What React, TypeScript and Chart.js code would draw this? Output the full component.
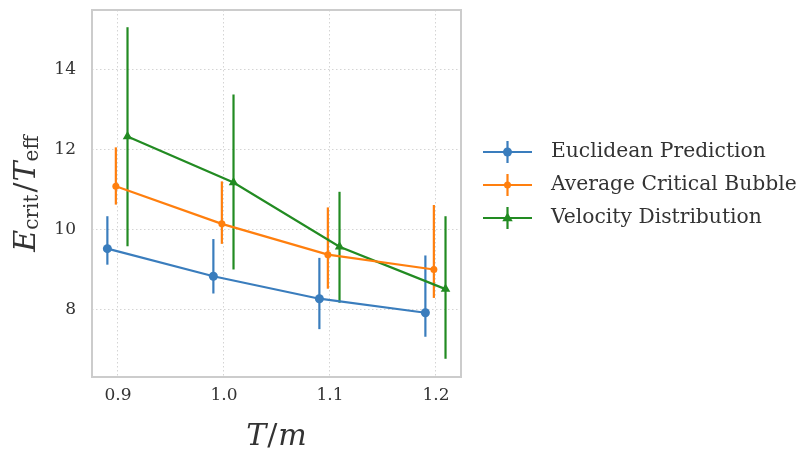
import React, { useEffect, useRef } from "react";
import { Chart, registerables } from "chart.js";

Chart.register(...registerables);

const xTicks = [0.9, 1.0, 1.1, 1.2];
const yTicks = [8, 10, 12, 14];

const seriesNames = ["Euclidean Prediction", "Average Critical Bubble", "Velocity Distribution"];

const euclidX = [0.89, 0.99, 1.09, 1.19];
const euclidY = [9.52, 8.83, 8.27, 7.92];
const euclidLo = [9.12, 8.40, 7.51, 7.32];
const euclidHi = [10.33, 9.76, 9.29, 9.35];

const bubbleX = [0.898, 0.998, 1.098, 1.198];
const bubbleY = [11.08, 10.14, 9.37, 9.0];
const bubbleLo = [10.62, 9.64, 8.52, 8.29];
const bubbleHi = [12.05, 11.2, 10.55, 10.61];

const velX = [0.909, 1.009, 1.109, 1.209];
const velY = [12.32, 11.17, 9.57, 8.51];
const velLo = [9.58, 9.0, 8.17, 6.77];
const velHi = [15.05, 13.37, 10.94, 10.33];

const COLORS = ["#3a7dbd", "#ff7f0e", "#228b22"];
const STYLES = ["circle", "circle", "triangle"];
const RADII = [4.5, 3.5, 5.5];

const FONT = "'DejaVu Serif', serif";
const TEXT = "#333333";

function makePoints(xs: number[], ys: number[]) {
  return xs.map((x, i) => ({ x, y: ys[i] }));
}

const errLo = [euclidLo, bubbleLo, velLo];
const errHi = [euclidHi, bubbleHi, velHi];
const errX = [euclidX, bubbleX, velX];

const errorBarPlugin = {
  id: "errorBars",
  beforeDatasetsDraw(chart: any) {
    const ctx = chart.ctx;
    const xs = chart.scales.x;
    const ys = chart.scales.y;
    ctx.save();
    for (let d = 0; d < 3; d++) {
      ctx.strokeStyle = COLORS[d];
      ctx.lineWidth = 2.2;
      for (let i = 0; i < errX[d].length; i++) {
        const px = xs.getPixelForValue(errX[d][i]);
        ctx.beginPath();
        ctx.moveTo(px, ys.getPixelForValue(errLo[d][i]));
        ctx.lineTo(px, ys.getPixelForValue(errHi[d][i]));
        ctx.stroke();
      }
    }
    ctx.restore();
  },
};

function drawMath(ctx: CanvasRenderingContext2D, parts: { t: string; f: string; dy: number; gap?: number }[], cx: number, cy: number) {
  let total = 0;
  for (const p of parts) {
    ctx.font = p.f;
    total += ctx.measureText(p.t).width + (p.gap || 0);
  }
  let x = cx - total / 2;
  for (const p of parts) {
    ctx.font = p.f;
    ctx.fillText(p.t, x, cy + p.dy);
    x += ctx.measureText(p.t).width + (p.gap || 0);
  }
}

const decorPlugin = {
  id: "decor",
  beforeDatasetsDraw(chart: any) {
    const { ctx, chartArea } = chart;
    ctx.save();
    ctx.strokeStyle = "#cccccc";
    ctx.lineWidth = 2;
    ctx.strokeRect(chartArea.left, chartArea.top, chartArea.right - chartArea.left, chartArea.bottom - chartArea.top);
    ctx.restore();
  },
  afterDraw(chart: any) {
    const { ctx, chartArea } = chart;
    ctx.save();
    ctx.fillStyle = TEXT;
    ctx.textBaseline = "middle";
    const big = `italic 30px ${FONT}`;
    const roman = `30px ${FONT}`;
    const sub = `20px ${FONT}`;
    // x title
    drawMath(
      ctx,
      [
        { t: "T", f: big, dy: 0, gap: 1 },
        { t: "/", f: roman, dy: 0, gap: 1 },
        { t: "m", f: big, dy: 0 },
      ],
      (chartArea.left + chartArea.right) / 2,
      437
    );
    // y title
    ctx.save();
    ctx.translate(27, (chartArea.top + chartArea.bottom) / 2);
    ctx.rotate(-Math.PI / 2);
    drawMath(
      ctx,
      [
        { t: "E", f: big, dy: 0 },
        { t: "crit", f: sub, dy: 6, gap: 2 },
        { t: "/", f: roman, dy: 0, gap: 1 },
        { t: "T", f: big, dy: 0 },
        { t: "eff", f: sub, dy: 6 },
      ],
      0,
      0
    );
    ctx.restore();

    // legend
    const rows = [152, 185, 218];
    for (let d = 0; d < 3; d++) {
      const y = rows[d];
      const cx = 507.5;
      ctx.strokeStyle = COLORS[d];
      ctx.fillStyle = COLORS[d];
      ctx.lineWidth = 2.2;
      ctx.beginPath();
      ctx.moveTo(483, y);
      ctx.lineTo(532, y);
      ctx.moveTo(cx, y - 11);
      ctx.lineTo(cx, y + 11);
      ctx.stroke();
      ctx.beginPath();
      if (STYLES[d] === "triangle") {
        const r = RADII[d];
        ctx.moveTo(cx, y - r);
        ctx.lineTo(cx + r * 0.95, y + r * 0.6);
        ctx.lineTo(cx - r * 0.95, y + r * 0.6);
        ctx.closePath();
      } else {
        ctx.arc(cx, y, RADII[d], 0, Math.PI * 2);
      }
      ctx.fill();
      ctx.fillStyle = TEXT;
      ctx.font = `20.3px ${FONT}`;
      ctx.textAlign = "left";
      ctx.fillText(seriesNames[d], 551, y);
    }
    ctx.restore();
  },
};

export default function App() {
  const ref = useRef<HTMLCanvasElement>(null);
  useEffect(() => {
    document.body.style.margin = "0";
    if (!ref.current) return;
    const xArrays = [euclidX, bubbleX, velX];
    const yArrays = [euclidY, bubbleY, velY];
    const chart = new Chart(ref.current, {
      type: "line",
      data: {
        datasets: seriesNames.map((name, d) => ({
          label: name,
          data: makePoints(xArrays[d], yArrays[d]),
          borderColor: COLORS[d],
          backgroundColor: COLORS[d],
          borderWidth: 2.2,
          pointStyle: STYLES[d] as any,
          pointRadius: RADII[d],
          pointBorderWidth: 0,
          pointHoverRadius: RADII[d],
          fill: false,
          tension: 0,
        })),
      },
      options: {
        responsive: false,
        animation: false,
        events: [],
        layout: { padding: { left: 0, top: 10, right: 344, bottom: 0 } },
        plugins: { legend: { display: false }, tooltip: { enabled: false } },
        scales: {
          x: {
            type: "linear",
            min: 0.8755,
            max: 1.2236,
            afterBuildTicks: (s: any) => {
              s.ticks = xTicks.map((v) => ({ value: v }));
            },
            afterFit: (s: any) => {
              s.height = 75;
              s.paddingLeft = 0;
              s.paddingRight = 0;
              s.paddingTop = 0;
              s.paddingBottom = 0;
            },
            grid: { color: "#d4d4d4", lineWidth: 1, drawTicks: false },
            border: { display: false, dash: [1.5, 2.5] },
            ticks: {
              padding: 8,
              color: TEXT,
              font: { family: FONT, size: 17 },
              callback: (v: any) => Number(v).toFixed(1),
            },
          },
          y: {
            type: "linear",
            min: 6.315,
            max: 15.48,
            afterBuildTicks: (s: any) => {
              s.ticks = yTicks.map((v) => ({ value: v }));
            },
            afterFit: (s: any) => {
              s.width = 92;
              s.paddingLeft = 0;
              s.paddingRight = 0;
              s.paddingTop = 0;
              s.paddingBottom = 0;
            },
            grid: { color: "#d4d4d4", lineWidth: 1, drawTicks: false },
            border: { display: false, dash: [1.5, 2.5] },
            ticks: {
              padding: 16,
              color: TEXT,
              font: { family: FONT, size: 17 },
              callback: (v: any) => String(v),
            },
          },
        },
      },
      plugins: [errorBarPlugin, decorPlugin],
    });
    return () => chart.destroy();
  }, []);
  return (
    <div style={{ width: 805, height: 452 }}>
      <canvas ref={ref} width={805} height={452} style={{ display: "block" }} />
    </div>
  );
}
